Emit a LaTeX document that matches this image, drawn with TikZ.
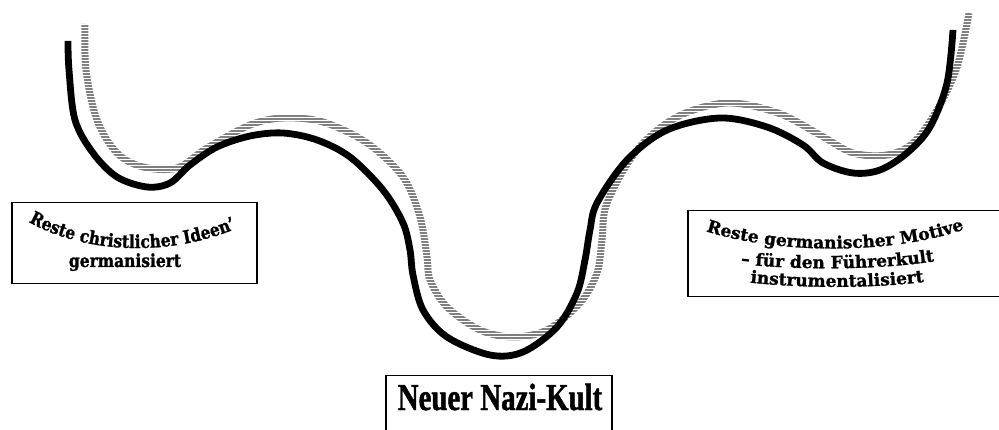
\documentclass[tikz,border=0pt]{standalone}
\usepackage{fontspec}
\usetikzlibrary{decorations.text}
\newfontfamily\fa[FakeStretch=0.86, BoldFeatures={FakeBold=1.3}]{DejaVu Serif}
\newfontfamily\fb[FakeStretch=1.0, BoldFeatures={FakeBold=1.3}]{DejaVu Serif}
\newfontfamily\fc[FakeStretch=0.76, BoldFeatures={FakeBold=1.2}]{Liberation Serif}
\begin{document}
\begin{tikzpicture}[x=1pt,y=1pt,
  blackline/.style={line width=6.8pt, black, line cap=butt},
  grayband/.style={line width=7pt, color={rgb,255:red,128;green,128;blue,128}, line cap=butt},
  labelbox/.style={draw, line width=1.5pt},
  arctext/.style={decorate, decoration={text along path, text align=center, text={#1}}}]
\useasboundingbox (0,0) rectangle (999,-430);
% gray striped band
\draw[grayband] plot[smooth, tension=0.55] coordinates {
 (85,-24) (86,-70) (97,-120) (117,-153) (143,-167) (177,-168) (207,-148) (250,-125)
 (283,-118) (323,-122) (367,-143) (403,-177) (420,-217) (427,-257) (430,-280)
 (447,-307) (480,-330) (513,-337) (547,-330) (580,-303) (597,-273) (602,-240)
 (607,-203) (637,-150) (677,-117) (727,-103) (778,-113) (820,-135) (853,-153)
 (887,-155) (913,-143) (937,-110) (957,-67) (969,-13)};
\foreach \yy in {0,3,...,432} \draw[white, line width=0.8pt] (60,-\yy) -- (990,-\yy);
% black line
\draw[blackline] plot[smooth, tension=0.55] coordinates {
 (68,-41) (69,-70) (75,-120) (93,-153) (117,-177) (147,-187) (170,-183) (190,-165)
 (217,-147) (250,-136) (283,-133) (317,-140) (350,-157) (383,-190) (403,-223)
 (410,-250) (413,-275) (423,-310) (447,-337) (490,-355) (523,-352) (557,-327)
 (577,-293) (585,-260) (590,-230) (597,-203) (627,-160) (667,-130) (720,-118)
 (767,-127) (803,-145) (823,-163) (853,-173) (880,-170) (907,-153) (930,-127)
 (947,-83) (953,-30)};
% boxes
\node[labelbox, minimum width=245pt, minimum height=81pt, anchor=north west] (b1) at (11,-202) {};
\node[labelbox, minimum width=320pt, minimum height=86pt, anchor=north west] (b2) at (687,-210) {};
\node[labelbox, minimum width=226pt, minimum height=70pt, anchor=north west] (b3) at (385,-375) {};
% box 1 text
\path[arctext={|\fa\bfseries\fontsize{18}{18}\selectfont|Reste christlicher Ideen’}]
  (16,-214) .. controls (80,-258) and (180,-258) .. (250,-222);
\node[anchor=base, font=\fa\bfseries\fontsize{18}{18}\selectfont, inner sep=0] (t1) at (125,-267) {germanisiert};
% box 2 text
\path[arctext={|\fb\bfseries\fontsize{17}{17}\selectfont|Reste germanischer Motive}]
  (694,-227) .. controls (770,-256) and (900,-256) .. (976,-225);
\path[arctext={|\fb\bfseries\fontsize{17}{17}\selectfont|– für den Führerkult}]
  (722,-262) .. controls (790,-271) and (890,-271) .. (953,-258);
\path[arctext={|\fb\bfseries\fontsize{17}{17}\selectfont|instrumentalisiert}]
  (736,-281) .. controls (800,-289) and (880,-289) .. (938,-280);
% box 3 text
\node[anchor=base, font=\fc\bfseries\fontsize{38}{38}\selectfont, inner sep=0] (t3) at (500,-410) {Neuer Nazi-Kult};
\end{tikzpicture}
\end{document}
